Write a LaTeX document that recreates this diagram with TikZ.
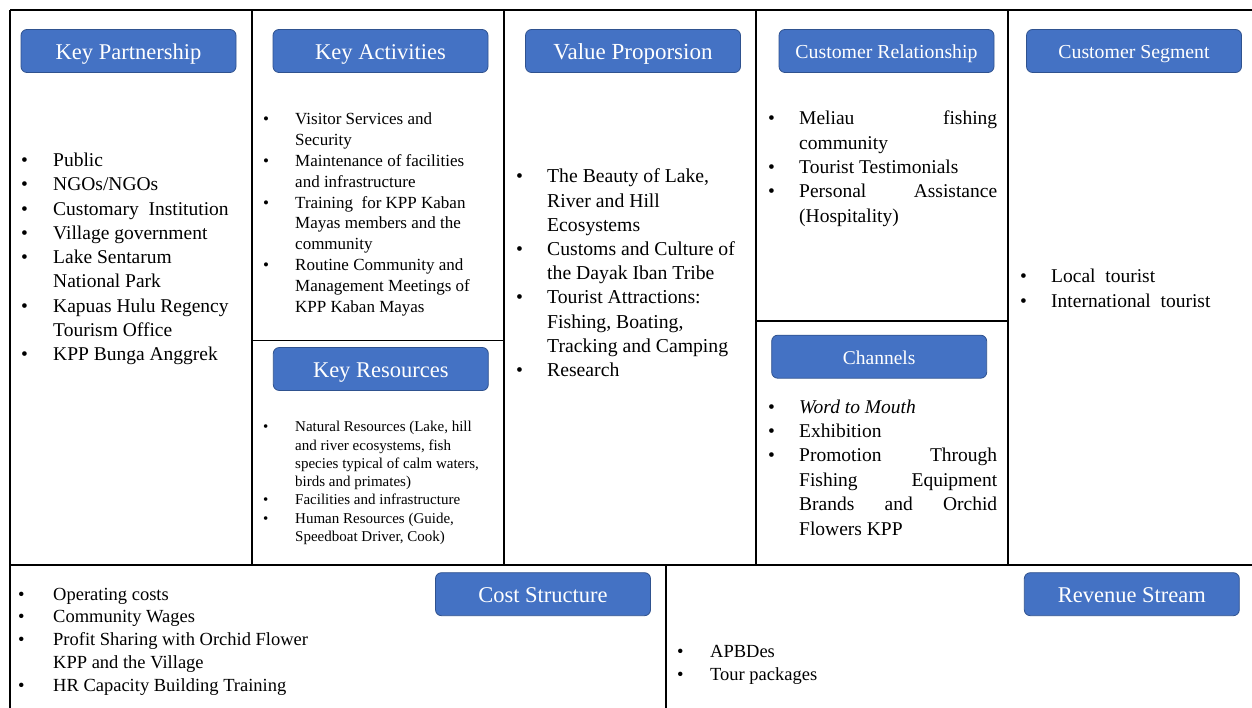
\documentclass[tikz,border=0pt]{standalone}
\usepackage{fontspec}
\setmainfont{Liberation Serif}
\definecolor{ttlfill}{HTML}{4472C4}
\definecolor{ttlborder}{HTML}{2F528F}
\newcommand\bulletmark[1][32pt]{\makebox[0pt][r]{\makebox[#1][l]{\textbullet}}}
\newcommand\jl[1]{\makebox[198pt][s]{#1}}
\tikzset{
  gridline/.style={line width=1.2pt, black},
  ttl/.style={draw=ttlborder, line width=0.8pt, fill=ttlfill, rounded corners=6pt,
    text=white, minimum width=215pt, minimum height=43pt, inner sep=0pt,
    text height=17pt, text depth=0pt, font=\fontsize{22.5pt}{27pt}\selectfont},
  ttlsmall/.style={ttl, text height=15pt, font=\fontsize{19.8pt}{24pt}\selectfont},
  ln/.style={anchor=base west, inner sep=0pt},
  fkp/.style={ln, font=\fontsize{19.5pt}{24pt}\selectfont},
  fka/.style={ln, font=\fontsize{17pt}{21pt}\selectfont},
  fkr/.style={ln, font=\fontsize{15pt}{18pt}\selectfont},
  fvp/.style={ln, font=\fontsize{19.7pt}{24pt}\selectfont},
  fbt/.style={ln, font=\fontsize{18.5pt}{23pt}\selectfont},
}
\begin{document}
\begin{tikzpicture}[x=1pt,y=-1pt]
\useasboundingbox[fill=white] (0,0) rectangle (1252,708);
% grid
\draw[gridline] (10,10) -- (1252,10);
\draw[gridline] (10,10) -- (10,708);
\draw[gridline] (10,565) -- (1252,565);
\draw[gridline] (252,10) -- (252,565);
\draw[gridline] (504,10) -- (504,565);
\draw[gridline] (756,10) -- (756,565);
\draw[gridline] (1008,10) -- (1008,565);
\draw[gridline] (252,340.5) -- (504,340.5);
\draw[gridline] (756,321) -- (1008,321);
\draw[gridline] (666,565) -- (666,708);
% titles
\node[ttl] (tkp) at (128.5,51) {Key Partnership};
\node[ttl] (tka) at (380.5,51) {Key Activities};
\node[ttl, font=\fontsize{23pt}{27pt}\selectfont] (tvp) at (633,51) {Value Proporsion};
\node[ttlsmall] (tcr) at (886.5,51) {Customer Relationship};
\node[ttlsmall] (tcs) at (1134,51) {Customer Segment};
\node[ttl] (tkr) at (380.8,369) {Key Resources};
\node[ttlsmall, font=\fontsize{19.5pt}{24pt}\selectfont] (tch) at (879.2,356.7) {Channels};
\node[ttl] (tco) at (543,594.2) {Cost Structure};
\node[ttl] (tre) at (1131.8,594.2) {Revenue Stream};
% Key Partnership
\node[fkp] (kp1) at (53,166.5) {\bulletmark{}Public};
\node[fkp] (kp2) at (53,190.8) {\bulletmark{}NGOs/NGOs};
\node[fkp] (kp3) at (53,215.1) {\bulletmark{}Customary\ \ Institution};
\node[fkp] (kp4) at (53,239.4) {\bulletmark{}Village government};
\node[fkp] (kp5) at (53,263.7) {\bulletmark{}Lake Sentarum};
\node[fkp] (kp6) at (53,288.0) {National Park};
\node[fkp] (kp7) at (53,312.3) {\bulletmark{}Kapuas Hulu Regency};
\node[fkp] (kp8) at (53,336.6) {Tourism Office};
\node[fkp] (kp9) at (53,360.9) {\bulletmark{}KPP Bunga Anggrek};
% Key Activities
\node[fka] (ka1) at (295,125) {\bulletmark{}Visitor Services and};
\node[fka] (ka2) at (295,145.8) {Security};
\node[fka] (ka3) at (295,166.6) {\bulletmark{}Maintenance of facilities};
\node[fka] (ka4) at (295,187.4) {and infrastructure};
\node[fka] (ka5) at (295,208.2) {\bulletmark{}Training\ \ for KPP Kaban};
\node[fka] (ka6) at (295,229) {Mayas members and the};
\node[fka] (ka7) at (295,249.8) {community};
\node[fka] (ka8) at (295,270.6) {\bulletmark{}Routine Community and};
\node[fka] (ka9) at (295,291.4) {Management Meetings of};
\node[fka] (ka10) at (295,312.2) {KPP Kaban Mayas};
% Key Resources
\node[fkr] (kr1) at (295,431.7) {\bulletmark{}Natural Resources (Lake, hill};
\node[fkr] (kr2) at (295,450) {and river ecosystems, fish};
\node[fkr] (kr3) at (295,468.3) {species typical of calm waters,};
\node[fkr] (kr4) at (295,486.6) {birds and primates)};
\node[fkr] (kr5) at (295,504.9) {\bulletmark{}Facilities and infrastructure};
\node[fkr] (kr6) at (295,523.2) {\bulletmark{}Human Resources (Guide,};
\node[fkr] (kr7) at (295,541.5) {Speedboat Driver, Cook)};
% Value Proposition
\node[fvp] (vp1) at (547,183) {\bulletmark[31pt]The Beauty of Lake,};
\node[fvp] (vp2) at (547,207.2) {River and Hill};
\node[fvp] (vp3) at (547,231.4) {Ecosystems};
\node[fvp] (vp4) at (547,255.6) {\bulletmark[31pt]Customs and Culture of};
\node[fvp] (vp5) at (547,279.8) {the Dayak Iban Tribe};
\node[fvp] (vp6) at (547,304) {\bulletmark[31pt]Tourist Attractions:};
\node[fvp] (vp7) at (547,328.2) {Fishing, Boating,};
\node[fvp] (vp8) at (547,352.4) {Tracking and Camping};
\node[fvp] (vp9) at (547,376.6) {\bulletmark[31pt]Research};
% Customer Relationship
\node[fkp] (cr1) at (799,125) {\bulletmark[31pt]\jl{Meliau fishing}};
\node[fkp] (cr2) at (799,149.3) {community};
\node[fkp] (cr3) at (799,173.6) {\bulletmark[31pt]Tourist Testimonials};
\node[fkp] (cr4) at (799,197.9) {\bulletmark[31pt]\jl{Personal Assistance}};
\node[fkp] (cr5) at (799,222.2) {(Hospitality)};
% Customer Segment
\node[fkp] (cs1) at (1051,283) {\bulletmark[31pt]Local\ \ tourist};
\node[fkp] (cs2) at (1051,307.3) {\bulletmark[31pt]International\ \ tourist};
% Channels
\node[fkp] (ch1) at (799,413) {\bulletmark[31pt]\textit{Word to Mouth}};
\node[fkp] (ch2) at (799,437.4) {\bulletmark[31pt]Exhibition};
\node[fkp] (ch3) at (799,461.8) {\bulletmark[31pt]\jl{Promotion Through}};
\node[fkp] (ch4) at (799,486.2) {\jl{Fishing Equipment}};
\node[fkp] (ch5) at (799,510.6) {\jl{Brands and Orchid}};
\node[fkp] (ch6) at (799,535) {Flowers KPP};
% Cost Structure
\node[fbt] (co1) at (53,600) {\bulletmark[35pt]Operating costs};
\node[fbt] (co2) at (53,622.9) {\bulletmark[35pt]Community Wages};
\node[fbt] (co3) at (53,645.8) {\bulletmark[35pt]Profit Sharing with Orchid Flower};
\node[fbt] (co4) at (53,668.7) {KPP and the Village};
\node[fbt] (co5) at (53,691.6) {\bulletmark[35pt]HR Capacity Building Training};
% Revenue Stream
\node[fbt] (re1) at (710,657) {\bulletmark[33pt]APBDes};
\node[fbt] (re2) at (710,680) {\bulletmark[33pt]Tour packages};
\end{tikzpicture}
\end{document}
